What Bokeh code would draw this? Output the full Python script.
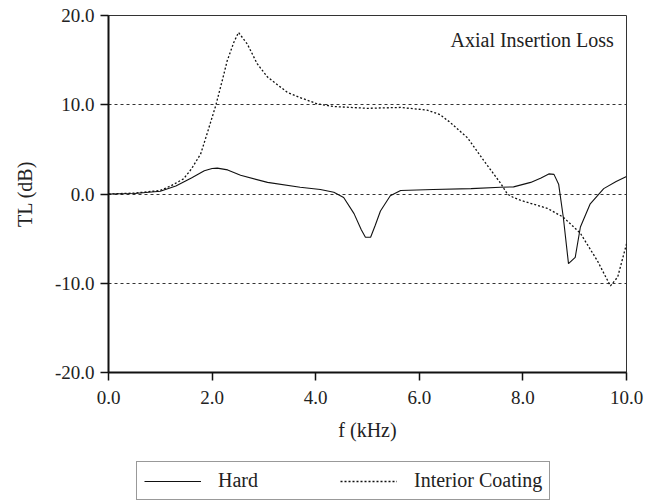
from bokeh.plotting import figure
from bokeh.layouts import column
from bokeh.models import (Range1d, FixedTicker, PrintfTickFormatter, Legend,
                          LegendItem, Label)
from bokeh.embed import file_html
from bokeh.resources import INLINE

# ---- data ----
hard_f = [0, 0.5, 1.0, 1.3, 1.6, 1.85, 2.0, 2.1, 2.3, 2.55, 3.07, 3.7, 4.09,
          4.35, 4.54, 4.74, 4.88, 4.96, 5.06, 5.15, 5.25, 5.44, 5.64, 6.27,
          7.0, 7.57, 7.82, 8.15, 8.35, 8.5, 8.6, 8.69, 8.78, 8.88, 9.01,
          9.11, 9.3, 9.56, 9.8, 10.0]
hard_tl = [0, 0.05, 0.3, 0.9, 1.8, 2.6, 2.85, 2.9, 2.7, 2.1, 1.3, 0.75, 0.5,
           0.2, -0.4, -2.2, -4.0, -4.85, -4.85, -3.5, -1.9, -0.2, 0.4, 0.5,
           0.6, 0.75, 0.8, 1.3, 1.8, 2.25, 2.2, 1.1, -2.6, -7.8, -7.1, -3.7,
           -1.1, 0.6, 1.4, 1.95]

coat_f = [0, 0.5, 1.0, 1.2, 1.45, 1.6, 1.78, 1.9, 2.07, 2.2, 2.29, 2.42, 2.51,
          2.68, 2.87, 3.07, 3.45, 3.7, 4.03, 4.35, 5.0, 5.64, 6.15, 6.4, 6.6,
          6.93, 7.25, 7.57, 7.7, 7.82, 7.95, 8.47, 8.78, 9.11, 9.44, 9.6,
          9.69, 9.83, 10.0]
coat_tl = [0, 0.1, 0.4, 0.9, 1.7, 2.8, 4.5, 6.7, 9.9, 12.8, 14.9, 17.0, 18.1,
           16.8, 14.6, 13.1, 11.4, 10.8, 10.1, 9.8, 9.6, 9.7, 9.4, 8.9, 8.0,
           6.3, 3.7, 1.2, 0.0, -0.4, -0.7, -1.6, -2.6, -4.4, -7.5, -9.3,
           -10.3, -9.3, -5.6]

x_ticks = [0, 2, 4, 6, 8, 10]
y_ticks = [-20, -10, 0, 10, 20]
series_names = ["Hard", "Interior Coating"]
title_text = "Axial Insertion Loss"

FONT = "Liberation Serif"
INK = "#111111"

p = figure(frame_width=518, frame_height=357, output_backend="svg",
           toolbar_location=None,
           x_range=Range1d(0, 10), y_range=Range1d(-20, 20),
           min_border_left=108, min_border_right=22, min_border_top=15,
           min_border_bottom=89)
p.background_fill_color = "white"
p.border_fill_color = "white"
p.outline_line_color = "#333333"
p.outline_line_width = 1

# grid
p.xgrid.visible = False
p.ygrid.ticker = FixedTicker(ticks=y_ticks)
p.ygrid.grid_line_color = "#333333"
p.ygrid.grid_line_dash = "3 3"
p.ygrid.grid_line_width = 1

# axes
for ax, ticks in ((p.xaxis[0], x_ticks), (p.yaxis[0], y_ticks)):
    ax.ticker = FixedTicker(ticks=ticks)
    ax.formatter = PrintfTickFormatter(format="%.1f")
    ax.axis_line_color = INK
    ax.axis_line_width = 2
    ax.major_tick_line_color = INK
    ax.major_tick_line_width = 1.5
    ax.major_tick_out = 8
    ax.major_tick_in = 0
    ax.minor_tick_line_color = None
    ax.major_label_text_font = FONT
    ax.major_label_text_font_size = "19px"
    ax.major_label_text_color = "#222222"
    ax.axis_label_text_font = FONT
    ax.axis_label_text_font_size = "20px"
    ax.axis_label_text_font_style = "normal"
    ax.axis_label_text_color = "#222222"

p.xaxis.axis_label = "f (kHz)"
p.yaxis.axis_label = "TL (dB)"
p.xaxis.major_label_standoff = 10
p.xaxis.axis_label_standoff = 12
p.yaxis.major_label_standoff = 6
p.yaxis.axis_label_standoff = 16

# lines
hard_style = dict(line_color=INK, line_width=1.1)
coat_style = dict(line_color=INK, line_width=1.3, line_dash="2 2")
p.line(hard_f, hard_tl, **hard_style)
p.line(coat_f, coat_tl, **coat_style)

# title inside plot
p.add_layout(Label(x=9.755, y=17.2, text=title_text, text_align="right",
                   text_baseline="middle", text_font=FONT,
                   text_font_size="20px", text_color="#222222"))

# legend strip below the chart (its frame is aligned with the chart's frame)
lg = figure(width=648, height=39, output_backend="svg", toolbar_location=None,
            x_range=Range1d(0, 1), y_range=Range1d(0, 1),
            x_axis_location=None, y_axis_location=None, min_border=0,
            min_border_left=108, min_border_right=22)
lg.grid.visible = False
lg.outline_line_color = None
lg.background_fill_color = "white"
lg.border_fill_color = "white"
# proxy renderers for the legend samples (kept outside the visible range)
lr_hard = lg.line(x=[0, 1], y=[-5, -5], **hard_style)
lr_coat = lg.line(x=[0, 1], y=[-5, -5], **coat_style)

legend = Legend(items=[LegendItem(label=series_names[0], renderers=[lr_hard]),
                       LegendItem(label=series_names[1], renderers=[lr_coat])],
                orientation="horizontal", location=(28, 0),
                glyph_width=57, glyph_height=20, label_standoff=17,
                spacing=82, padding=7, margin=0,
                label_text_font=FONT, label_text_font_size="20px",
                label_text_color="#222222",
                border_line_color="#333333", border_line_width=1)
lg.add_layout(legend, "center")

layout = column(p, lg, spacing=0)
open("out.html", "w").write(file_html(layout, INLINE))
